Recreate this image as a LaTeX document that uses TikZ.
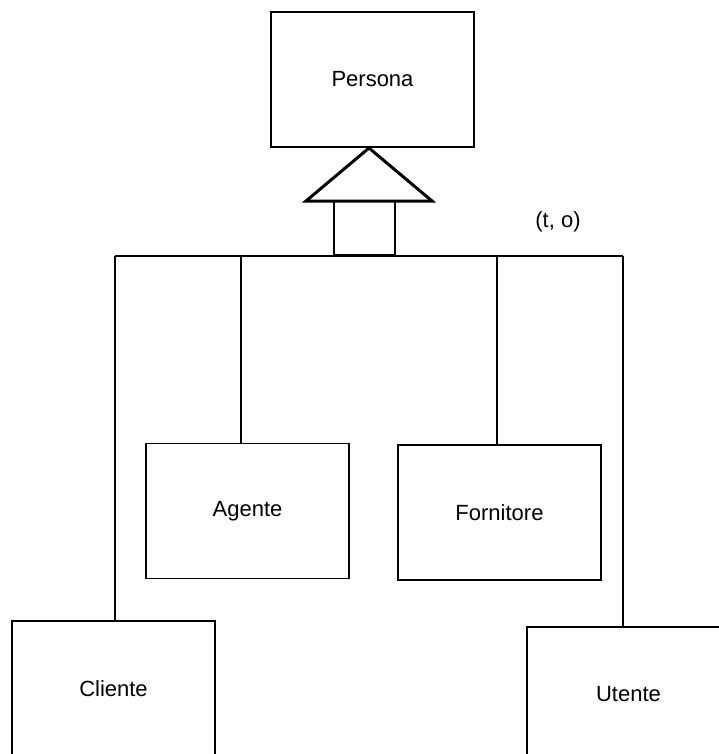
\documentclass[tikz,border=0pt]{standalone}
\usepackage{fontspec}
\setmainfont{Liberation Sans}
\begin{document}
\begin{tikzpicture}[x=1pt,y=-1pt,
  entity/.style={draw, line width=1.3pt, rectangle, minimum width=203pt, minimum height=135pt,
                 inner sep=0pt, font=\fontsize{22}{25}\selectfont},
  link/.style={line width=1.3pt},
  isa/.style={line width=3pt, line join=miter}]
\useasboundingbox (0,0) rectangle (719,754);

% entities
\node[entity] (Persona)   at (372.5,79.5)  {Persona};
\node[entity] (Agente)    at (247.5,511)   {Agente};
\node[entity] (Fornitore) at (499.5,512.5) {Fornitore};
\node[entity] (Cliente)   at (113.5,688.5) {Cliente};
\node[entity] (Utente)    at (628.5,694.5) {Utente};

% generalization arrow
\coordinate (apex) at (369,148);
\coordinate (baseL) at (306,201);
\coordinate (baseR) at (432,201);
\draw[isa] (apex) -- (baseR) -- (baseL) -- cycle;
\node[draw, line width=1.3pt, minimum width=61pt, minimum height=54pt, inner sep=0pt] (stem) at (364.5,228) {};
\draw[line width=2.6pt] (stem.south west) -- (stem.south east);

% coverage label
\node[font=\fontsize{22}{25}\selectfont] (cover) at (558,222) {(t, o)};

% hierarchy bus
\coordinate (busL) at (115,256);
\coordinate (busA) at (241,256);
\coordinate (busF) at (497,256);
\coordinate (busR) at (623,256);
\draw[link] (busL) -- (busR);
\draw[link] (busL) -- (busL |- Cliente.north);
\draw[link] (busA) -- (busA |- Agente.north);
\draw[link] (busF) -- (busF |- Fornitore.north);
\draw[link] (busR) -- (busR |- Utente.north);
\end{tikzpicture}
\end{document}
